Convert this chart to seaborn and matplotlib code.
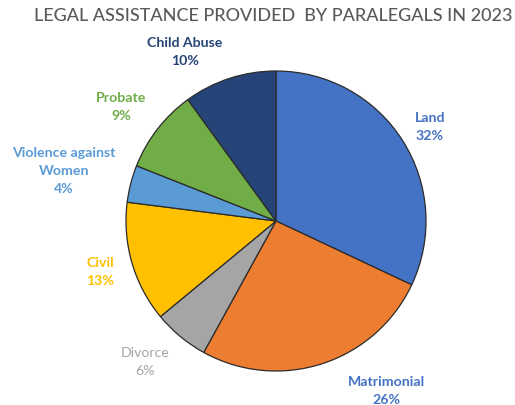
import matplotlib
matplotlib.use("Agg")
import matplotlib.pyplot as plt
import seaborn as sns

# Legal assistance cases by category (share of total, %)
categories = ["Land", "Matrimonial", "Divorce", "Civil",
              "Violence against\nWomen", "Probate", "Child Abuse"]
shares = [32, 26, 6, 13, 4, 9, 10]
slice_colors = ["#4472C4", "#ED7D31", "#A5A5A5", "#FFC000",
                "#5B9BD5", "#70AD47", "#264478"]
label_colors = ["#4472C4", "#4472C4", "#A5A5A5", "#FFC000",
                "#5B9BD5", "#70AD47", "#264478"]
label_weights = ["bold", "bold", "normal", "bold", "bold", "bold", "bold"]
# label anchor points in figure pixels (x from left, y from top)
label_pos = [(430, 127), (386, 391), (145, 362), (100, 272),
             (64, 171), (121, 107), (185, 52)]
title = "LEGAL ASSISTANCE PROVIDED  BY PARALEGALS IN 2023"

sns.set_theme(style="white")
plt.rcParams["font.family"] = ["Lato", "DejaVu Sans"]

W, H = 515, 406
fig = plt.figure(figsize=(W / 100, H / 100), dpi=100)
ax = fig.add_axes([0, 0, 1, 1])
ax.set_xlim(0, W)
ax.set_ylim(0, H)
ax.set_aspect("equal")
ax.axis("off")

ax.pie(shares, colors=slice_colors, startangle=90, counterclock=False,
       center=(276, H - 222), radius=150,
       wedgeprops=dict(edgecolor="#2b2b2b", linewidth=0.9))
ax.set_xlim(0, W)
ax.set_ylim(0, H)

for cat, val, (px, py), col, wt in zip(categories, shares, label_pos,
                                       label_colors, label_weights):
    ax.text(px, H - py, f"{cat}\n{val}%", ha="center", va="center",
            color=col, fontsize=10.2, fontweight=wt, linespacing=1.6)

ax.text(273, H - 16, title, ha="center", va="center", color="#595959",
        fontsize=13, fontweight="medium")

fig.savefig("out.png", dpi=100, facecolor="white")
